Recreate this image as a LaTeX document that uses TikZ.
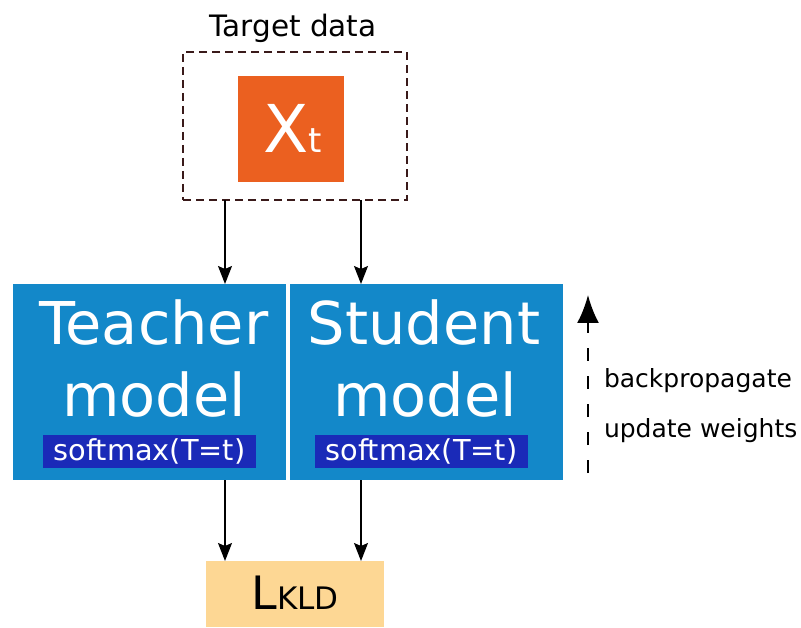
\documentclass[tikz,border=0pt]{standalone}
\usepackage{fontspec}
\setmainfont{DejaVu Sans}
\usetikzlibrary{positioning,arrows.meta}

\definecolor{dataorange}{HTML}{EB6020}
\definecolor{modelblue}{HTML}{1388C9}
\definecolor{softblue}{HTML}{1A2AB8}
\definecolor{losscream}{HTML}{FDD794}
\definecolor{dashbrown}{HTML}{3A1A1A}

\tikzset{
  plain/.style = {inner sep = 0pt, outer sep = 0pt},
  model/.style = {plain, fill = modelblue, minimum width = 273pt, minimum height = 196pt},
  modeltext/.style = {plain, text = white, font = \fontsize{59}{59}\selectfont, anchor = base},
  softbar/.style = {plain, fill = softblue, text = white, minimum width = 213pt, minimum height = 33pt, font = \fontsize{28.8}{28.8}\selectfont},
  feed/.style = {-{Stealth[length = 18pt, width = 14pt, inset = 3pt]}, line width = 1.3pt},
  note/.style = {plain, anchor = base west, font = \fontsize{25}{25}\selectfont}
}

\begin{document}
\begin{tikzpicture}[x = 1pt, y = -1pt]
\useasboundingbox (0,0) rectangle (801,628);

% target data
\node[plain, draw = dashbrown, dash pattern = on 8pt off 5pt, line width = 1.3pt, minimum width = 224pt, minimum height = 148pt] (data) at (295,126) {};
\node[plain, anchor = base, font = \fontsize{29.5}{29.5}\selectfont] (datalbl) at (293,37) {Target data};
\node[plain, fill = dataorange, minimum size = 106pt] (xt) at (291,129) {};
\node[plain, anchor = base, text = white] (xtlbl) at (293,153) {\fontsize{66}{66}\selectfont X\fontsize{34}{34}\selectfont t};

% models
\node[model] (teacher) at (149.5,382) {};
\node[modeltext] (teacherA) at (154,345) {Teacher};
\node[modeltext] (teacherB) at (154,417) {model};
\node[softbar] (teachersm) at (149.5,451) {softmax(T=t)};

\node[model] (student) at (426,382) {};
\node[modeltext] (studentA) at (424,345) {Student};
\node[modeltext] (studentB) at (425,417) {model};
\node[softbar] (studentsm) at (421.5,451) {softmax(T=t)};

% loss
\node[plain, fill = losscream, minimum width = 178pt, minimum height = 66pt] (loss) at (295,594) {};
\node[plain, anchor = base] (losslbl) at (295,609) {\fontsize{46}{46}\selectfont L\fontsize{31}{31}\selectfont KLD};

% connectors
\coordinate (left) at (225,0);
\coordinate (right) at (361,0);
\draw[feed] (data.south -| left) -- (teacher.north -| left);
\draw[feed] (data.south -| right) -- (student.north -| right);
\draw[feed] (teacher.south -| left) -- (loss.north -| left);
\draw[feed] (student.south -| right) -- (loss.north -| right);

% backpropagation
\coordinate (bpbot) at (588,473);
\coordinate (bptop) at (588,295);
\draw[-{Latex[length = 28pt, width = 22pt]}, line width = 2.2pt, dash pattern = on 13pt off 15pt] (bpbot) -- (bptop);
\node[note] (bplbl) at (604,388) {backpropagate};
\node[note] (uplbl) at (604,438) {update weights};
\end{tikzpicture}
\end{document}
